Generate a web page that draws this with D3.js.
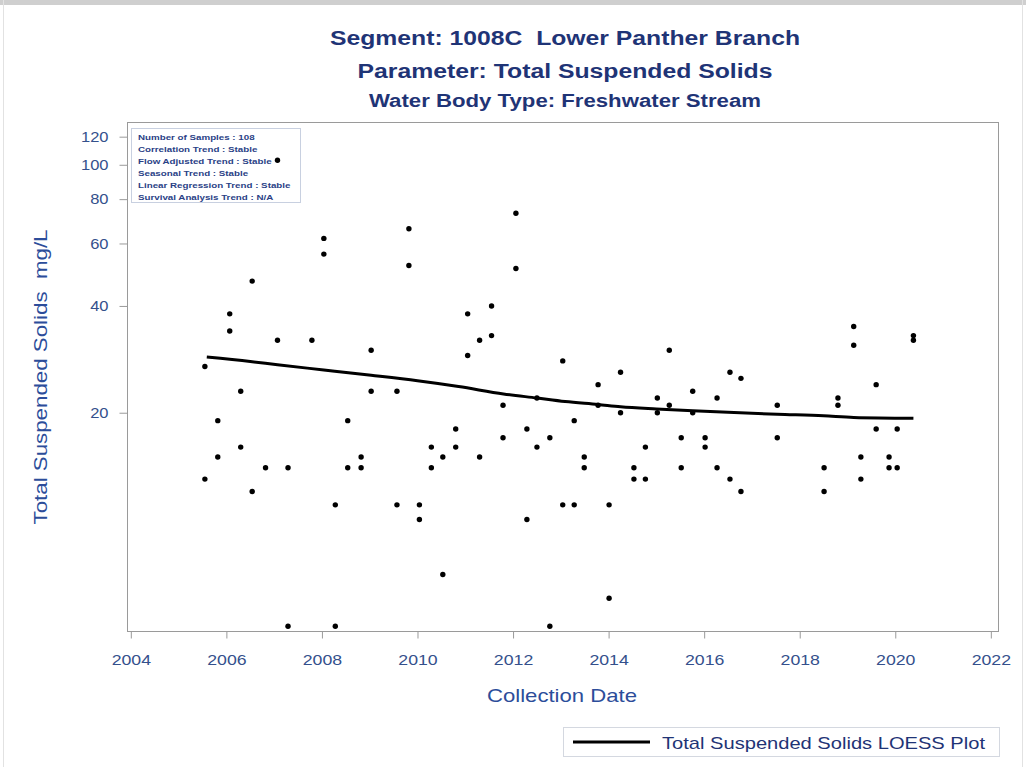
<!DOCTYPE html>
<html>
<head>
<meta charset="utf-8">
<script src="https://cdn.jsdelivr.net/npm/d3@7"></script>
<style>
  html, body { margin: 0; padding: 0; background: #fff; }
  svg { display: block; font-family: "Liberation Sans", Arial, sans-serif; }
  text { white-space: pre; }
</style>
</head>
<body>
<svg id="chart" width="1026" height="767"></svg>
<script>
// ---------- DATA ----------
const titles = [
  "Segment: 1008C  Lower Panther Branch",
  "Parameter: Total Suspended Solids",
  "Water Body Type: Freshwater Stream"
];
const statLines = [
  "Number of Samples : 108",
  "Correlation Trend : Stable",
  "Flow Adjusted Trend : Stable",
  "Seasonal Trend : Stable",
  "Linear Regression Trend : Stable",
  "Survival Analysis Trend : N/A"
];
const xTicks = [2004, 2006, 2008, 2010, 2012, 2014, 2016, 2018, 2020, 2022];
const yTicks = [20, 40, 60, 80, 100, 120];

// sample dates (decimal years) and values (mg/L)
const sampleDates = [
  2005.55, 2005.55, 2005.82, 2005.82, 2006.07, 2006.07, 2006.30, 2006.30, 2006.54, 2006.54,
  2006.82, 2007.07, 2007.07, 2007.29, 2007.29, 2007.79, 2008.04, 2008.04, 2008.28, 2008.28,
  2008.54, 2008.54, 2008.82, 2008.82, 2009.03, 2009.03, 2009.57, 2009.57, 2009.82, 2009.82,
  2010.04, 2010.04, 2010.29, 2010.29, 2010.53, 2010.53, 2010.80, 2010.80, 2011.05, 2011.05,
  2011.30, 2011.30, 2011.55, 2011.55, 2011.79, 2011.79, 2012.06, 2012.06, 2012.29, 2012.29,
  2012.50, 2012.50, 2012.77, 2012.77, 2013.04, 2013.04, 2013.28, 2013.28, 2013.49, 2013.49,
  2013.78, 2013.78, 2014.01, 2014.01, 2014.25, 2014.25, 2014.53, 2014.53, 2014.77, 2014.77,
  2015.02, 2015.02, 2015.27, 2015.27, 2015.52, 2015.52, 2015.76, 2015.76, 2016.02, 2016.02,
  2016.27, 2016.27, 2016.54, 2016.54, 2016.77, 2016.77, 2017.53, 2017.53, 2018.51, 2018.51,
  2018.80, 2018.80, 2019.13, 2019.13, 2019.28, 2019.28, 2019.60, 2019.60, 2019.87, 2019.87,
  2020.04, 2020.04, 2020.38, 2020.38
];
const sampleValues = [
  27, 13, 19, 15, 38, 34, 23, 16, 47, 12,
  14, 32, 103, 14, 5, 32, 62, 56, 11, 5,
  19, 14, 15, 14, 30, 23, 23, 11, 66, 52,
  11, 10, 16, 14, 15, 7, 18, 16, 38, 29,
  32, 15, 40, 33, 21, 17, 73, 51, 18, 10,
  22, 16, 17, 5, 28, 11, 19, 11, 15, 14,
  24, 21, 11, 6, 26, 20, 14, 13, 16, 13,
  22, 20, 30, 21, 17, 14, 23, 20, 17, 16,
  22, 14, 26, 13, 25, 12, 21, 17, 14, 12,
  22, 21, 35, 31, 15, 13, 24, 18, 15, 14,
  18, 14, 33, 32
];

// LOESS curve
const loessDates  = [2005.59, 2006.5, 2007.07, 2008.04, 2009.03, 2010.0, 2010.86, 2011.8, 2012.5, 2013.09, 2013.78, 2014.25, 2015.0, 2015.76, 2016.5, 2017.53, 2018.5, 2019.13, 2020.38];
const loessValues = [28.7, 27.9, 27.3, 26.4, 25.5, 24.6, 23.7, 22.6, 22.0, 21.5, 21.1, 20.8, 20.5, 20.25, 20.05, 19.8, 19.6, 19.4, 19.3];

// ---------- LAYOUT ----------
const svg = d3.select("#chart");
const W = 1026, H = 767;
const plot = { left: 127, right: 998, top: 122, bottom: 631 };

const titleColor = "#1f3476";
const labelColor = "#2c4d9a";
const tickColor = "#34508c";

// widen text glyphs horizontally (reference font is wider than Liberation Sans)
function stretch(sel, k) {
  sel.each(function () {
    const len = this.getComputedTextLength();
    d3.select(this).attr("textLength", len * k).attr("lengthAdjust", "spacingAndGlyphs");
  });
}

// outer frame
svg.append("rect").attr("x", 0).attr("y", 0).attr("width", W).attr("height", 5).attr("fill", "#cfcfcf");
svg.append("line").attr("x1", 3.5).attr("x2", 3.5).attr("y1", 0).attr("y2", H).attr("stroke", "#e2e2e2");
svg.append("line").attr("x1", W - 3.5).attr("x2", W - 3.5).attr("y1", 0).attr("y2", H).attr("stroke", "#e2e2e2");

// scales
const x = d3.scaleLinear().domain([2003.92, 2022.15]).range([plot.left, plot.right]);
const y = d3.scaleLog().domain([4.85, 132]).range([plot.bottom, plot.top]);

// titles
const titleSizes = [21, 20, 18];
const titleY = [45, 78, 107];
const titleWidths = [470, 415, 392];
titles.forEach((t, i) => {
  svg.append("text")
    .attr("x", 565).attr("y", titleY[i])
    .attr("text-anchor", "middle")
    .attr("font-size", titleSizes[i])
    .attr("font-weight", "bold")
    .attr("fill", titleColor)
    .attr("textLength", titleWidths[i]).attr("lengthAdjust", "spacingAndGlyphs")
    .text(t);
});

// plot frame
svg.append("rect")
  .attr("x", plot.left + 0.5).attr("y", plot.top + 0.5)
  .attr("width", plot.right - plot.left).attr("height", plot.bottom - plot.top)
  .attr("fill", "#fff").attr("stroke", "#9a9a9a").attr("stroke-width", 1);

// x axis
const xAxis = d3.axisBottom(x).tickValues(xTicks).tickFormat(d3.format("d")).tickSize(7).tickPadding(16);
const gx = svg.append("g").attr("transform", `translate(0,${plot.bottom + 0.5})`).call(xAxis);
gx.select(".domain").remove();
gx.selectAll(".tick line").attr("stroke", "#9a9a9a");
gx.selectAll(".tick text").attr("fill", tickColor).attr("font-size", 15)
  .attr("font-family", "Liberation Sans, Arial, sans-serif").call(stretch, 1.18);

// y axis
const yAxis = d3.axisLeft(y).tickValues(yTicks).tickFormat(d3.format("d")).tickSize(8).tickPadding(11);
const gy = svg.append("g").attr("transform", `translate(${plot.left + 0.5},0)`).call(yAxis);
gy.select(".domain").remove();
gy.selectAll(".tick line").attr("stroke", "#9a9a9a");
gy.selectAll(".tick text").attr("fill", tickColor).attr("font-size", 15)
  .attr("font-family", "Liberation Sans, Arial, sans-serif").call(stretch, 1.1);

// axis titles
svg.append("text")
  .attr("x", 562).attr("y", 702)
  .attr("text-anchor", "middle")
  .attr("font-size", 19).attr("fill", labelColor)
  .attr("textLength", 150).attr("lengthAdjust", "spacingAndGlyphs")
  .text("Collection Date");
svg.append("text")
  .attr("transform", `translate(47,377) rotate(-90)`)
  .attr("text-anchor", "middle")
  .attr("font-size", 19).attr("fill", labelColor)
  .attr("textLength", 295).attr("lengthAdjust", "spacingAndGlyphs")
  .text("Total Suspended Solids  mg/L");

// stats box
const sb = svg.append("g");
sb.append("rect")
  .attr("x", 131.5).attr("y", 128.5).attr("width", 169).attr("height", 74)
  .attr("fill", "#fff").attr("stroke", "#c8d0e0");
statLines.forEach((t, i) => {
  sb.append("text")
    .attr("x", 138).attr("y", 139.5 + i * 12)
    .attr("font-size", 8).attr("font-weight", "bold")
    .attr("fill", "#2a3f86")
    .text(t)
    .call(stretch, 1.22);
});

// points
const pts = sampleDates.map((d, i) => ({ d, v: sampleValues[i] }));
svg.append("g").selectAll("circle")
  .data(pts).join("circle")
  .attr("cx", p => x(p.d)).attr("cy", p => y(p.v))
  .attr("r", 2.7).attr("fill", "#000");

// LOESS line
const lpts = loessDates.map((d, i) => ({ d, v: loessValues[i] }));
svg.append("path")
  .datum(lpts)
  .attr("fill", "none").attr("stroke", "#000").attr("stroke-width", 3)
  .attr("d", d3.line().x(p => x(p.d)).y(p => y(p.v)).curve(d3.curveMonotoneX));

// legend
const lg = svg.append("g");
lg.append("rect").attr("x", 563.5).attr("y", 727.5).attr("width", 436).attr("height", 29)
  .attr("fill", "#fff").attr("stroke", "#d4d8e0");
lg.append("line").attr("x1", 573).attr("x2", 650).attr("y1", 742).attr("y2", 742)
  .attr("stroke", "#000").attr("stroke-width", 3);
lg.append("text").attr("x", 662).attr("y", 748.5)
  .attr("font-size", 17).attr("fill", titleColor)
  .attr("textLength", 323).attr("lengthAdjust", "spacingAndGlyphs")
  .text("Total Suspended Solids LOESS Plot");
</script>
</body>
</html>
